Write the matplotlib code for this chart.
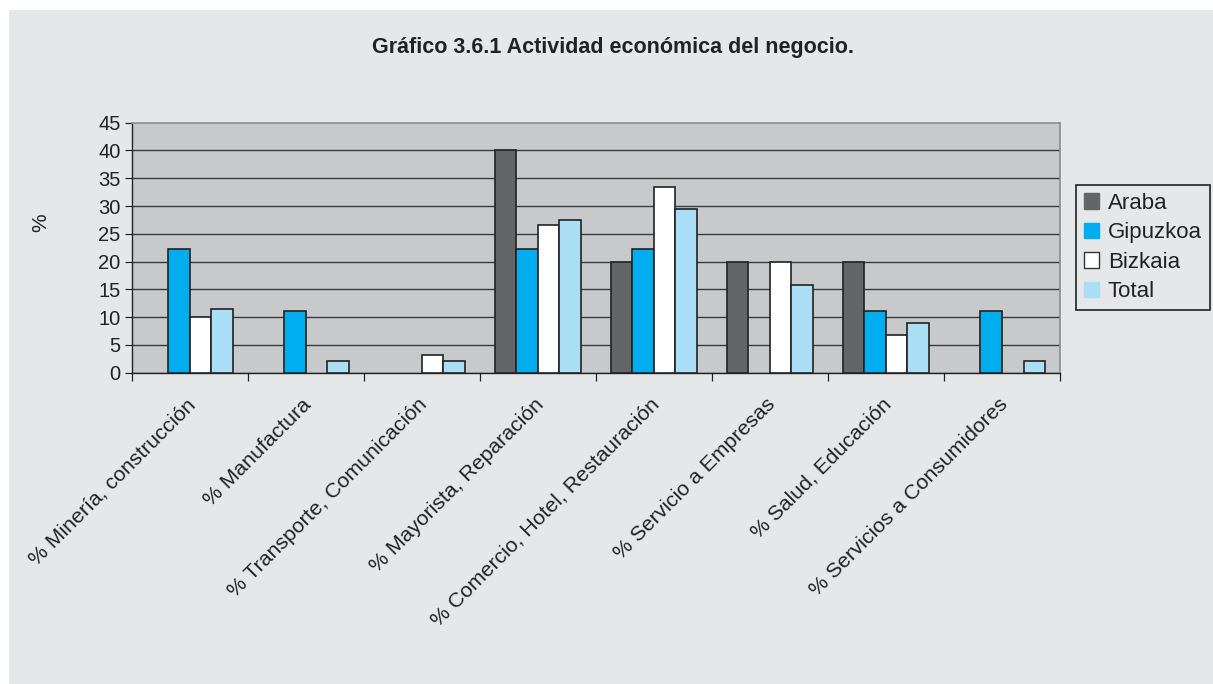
import numpy as np
import matplotlib
matplotlib.use("Agg")
import matplotlib.pyplot as plt
import matplotlib.transforms as mtransforms
from matplotlib.patches import Patch, Rectangle

# Actividad económica del negocio (%)
categories = ["% Minería, construcción", "% Manufactura", "% Transporte, Comunicación",
              "% Mayorista, Reparación", "% Comercio, Hotel, Restauración",
              "% Servicio a Empresas", "% Salud, Educación", "% Servicios a Consumidores"]
araba = [0, 0, 0, 40.0, 20.0, 20.0, 20.0, 0]
gipuzkoa = [22.2, 11.1, 0, 22.2, 22.2, 0, 11.1, 11.1]
bizkaia = [10.0, 0, 3.2, 26.6, 33.5, 20.0, 6.7, 0]
total = [11.4, 2.1, 2.1, 27.4, 29.5, 15.8, 8.9, 2.1]

series = ["Araba", "Gipuzkoa", "Bizkaia", "Total"]
colors = ["#646567", "#00adee", "#ffffff", "#aadff6"]

plt.rcParams['font.family'] = ['Liberation Sans', 'DejaVu Sans']

fig = plt.figure(figsize=(12.13, 6.84), dpi=100)
fig.patch.set_facecolor("white")
# grey panel with thin white margin top/left
fig.patches.append(Rectangle((9 / 1213, 0), 1, 1 - 10 / 684, transform=fig.transFigure,
                             facecolor="#e6e7e9", edgecolor="none", zorder=-10))

ax = fig.add_axes([131.5 / 1213, 1 - 372.7 / 684, 928.5 / 1213, 250 / 684])
ax.set_facecolor("#c8c9cb")

x = np.arange(len(categories))
w = 0.186
for i, (vals, c) in enumerate(zip([araba, gipuzkoa, bizkaia, total], colors)):
    vals = np.array(vals)
    # empty categories show no bar at all (no edge line on the axis)
    edges = ["#222222" if v > 0 else "none" for v in vals]
    ax.bar(x + (i - 1.5) * w, vals, width=w, color=c, edgecolor=edges,
           linewidth=1.2, zorder=3)

ax.set_xlim(-0.5, len(categories) - 0.5)
ax.set_ylim(0, 45)
ax.set_yticks(np.arange(0, 50, 5))
ax.yaxis.grid(True, color="#3c3c3c", linewidth=1.0, zorder=0)
ax.set_axisbelow(True)
ax.yaxis.get_gridlines()[-1].set_visible(False)
ax.tick_params(axis="y", labelsize=14.5, length=5, width=0.9, color="#222222",
               labelcolor="#222222", pad=3)

ax.set_xticks(x)
ax.set_xticklabels(categories, rotation=45, ha="right", rotation_mode="anchor",
                   fontsize=15.3, color="#222222")
ax.tick_params(axis="x", which="major", length=0, pad=16)
shift = mtransforms.ScaledTranslation(-4 / 100, 0, fig.dpi_scale_trans)
for lbl in ax.get_xticklabels():
    lbl.set_transform(lbl.get_transform() + shift)
ax.set_xticks(np.arange(-0.5, len(categories)), minor=True)
ax.tick_params(axis="x", which="minor", length=6, width=0.9, color="#222222")

for s in ["left", "bottom"]:
    ax.spines[s].set_color("#222222")
    ax.spines[s].set_linewidth(1.0)
for s in ["top", "right"]:
    ax.spines[s].set_color("#8c8c8c")
    ax.spines[s].set_linewidth(1.2)

fig.text(41 / 1213, 1 - 223 / 684, "%", rotation=90, fontsize=15, color="#222222",
         ha="center", va="center")

fig.text(613 / 1213, 1 - 48 / 684, "Gráfico 3.6.1 Actividad económica del negocio.",
         fontsize=15.5, fontweight="bold", color="#222222", ha="center", va="center")

handles = [Patch(facecolor=c, edgecolor=("#333333" if c == "#ffffff" else c), linewidth=1.0)
           for c in colors]
leg = fig.legend(handles, series, loc="upper left",
                 bbox_to_anchor=(1076 / 1213, 1 - 185 / 684), fontsize=16,
                 frameon=True, fancybox=False, edgecolor="#222222",
                 facecolor="#e6e7e9", framealpha=1, handlelength=0.68,
                 handleheight=0.68, handletextpad=0.4, labelspacing=0.38,
                 borderpad=0.35, borderaxespad=0)
leg.get_frame().set_linewidth(1.2)
for t in leg.get_texts():
    t.set_color("#222222")

fig.savefig("out.png", dpi=100)
